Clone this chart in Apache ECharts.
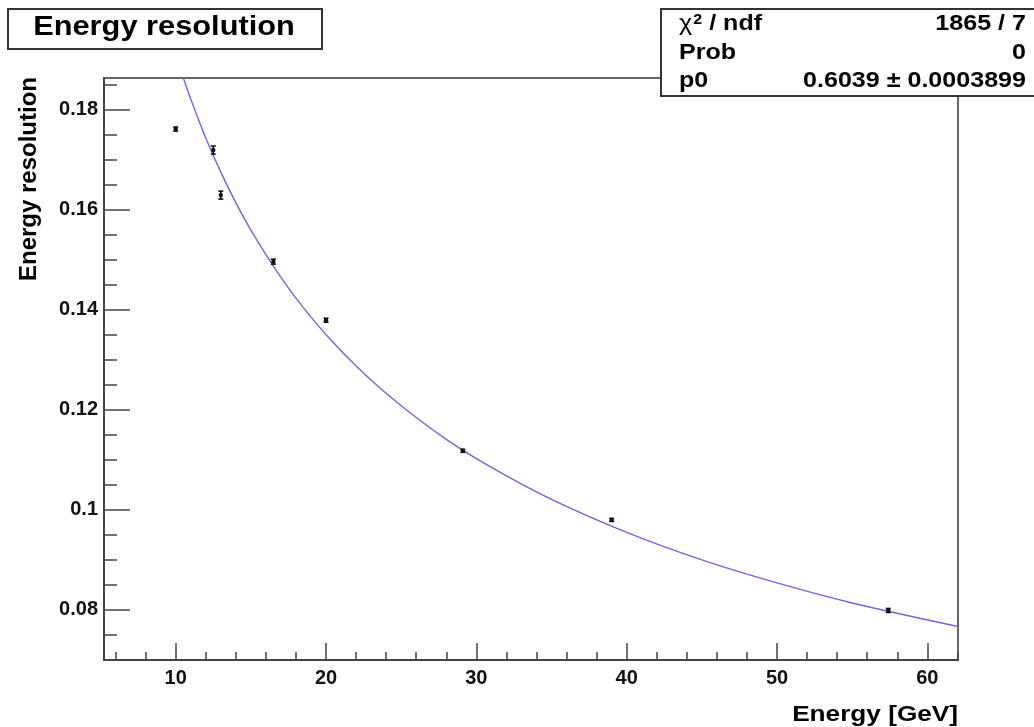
<!DOCTYPE html>
<html>
<head>
<meta charset="utf-8">
<script src="https://cdn.jsdelivr.net/npm/echarts@6/dist/echarts.min.js"></script>
<style>
html,body{margin:0;padding:0;background:#fff;}
#chart{width:1034px;height:727px;}
</style>
</head>
<body>
<div id="chart"></div>
<script>
// ---- data ----
const energy = [10, 12.5, 13, 16.5, 20, 29.1, 39, 57.4];
const resolution = [0.1761, 0.1719, 0.1629, 0.1496, 0.1379, 0.1118, 0.0980, 0.0799];
const resolutionErr = [0.0004, 0.0008, 0.0008, 0.0005, 0.0004, 0.0003, 0.0003, 0.0004];

// fit curve
const fitEnergy = [10.5, 11, 12, 13, 14, 15, 16.5, 18, 20, 22.5, 25, 28, 31, 35, 40, 45, 50, 55, 62.04];
const fitResolution = [0.1864, 0.1821, 0.1743, 0.1675, 0.1614, 0.1559, 0.1487, 0.1423, 0.1350, 0.1273, 0.1208, 0.1141, 0.1085, 0.1021, 0.0955, 0.0900, 0.0854, 0.0814, 0.0767];

// axis ticks
const xMajorTicks = [10, 20, 30, 40, 50, 60];
const xMinorTicks = [6, 8, 12, 14, 16, 18, 22, 24, 26, 28, 32, 34, 36, 38, 42, 44, 46, 48, 52, 54, 56, 58, 62];
const yMajorTicks = [0.08, 0.1, 0.12, 0.14, 0.16, 0.18];
const yMinorTicks = [0.075, 0.085, 0.09, 0.095, 0.105, 0.11, 0.115, 0.125, 0.13, 0.135, 0.145, 0.15, 0.155, 0.165, 0.17, 0.175, 0.185];

// text
const titleText = 'Energy resolution';
const xTitle = 'Energy [GeV]';
const yTitle = 'Energy resolution';
const statsLabels = ['{chi|χ}{sup|2}{b| / ndf}', '{b|Prob}', '{b|p0}'];
const statsValues = ['1865 / 7', '0', '0.6039 ± 0.0003899'];

const X_MIN = 5.23, X_MAX = 62.04, Y_MIN = 0.07, Y_MAX = 0.1863;

const chart = echarts.init(document.getElementById('chart'), null, {renderer: 'canvas'});

const pts = energy.map((e, i) => [e, resolution[i], resolutionErr[i]]);
const fit = fitEnergy.map((e, i) => [e, fitResolution[i]]);

const FONT = 'Liberation Sans, Arial, Helvetica, sans-serif';

const statsGraphics = [];
const rowY = [24, 53, 81];
const SX = 1.14;
statsLabels.forEach((t, i) => {
  statsGraphics.push({type: 'text', x: 679, y: rowY[i], z: 101, scaleX: SX,
    style: {text: t, fill: '#000', align: 'left', verticalAlign: 'middle', textAlign: 'left', textVerticalAlign: 'middle',
      rich: {
        b: {font: 'bold 22px ' + FONT, fill: '#000'},
        chi: {font: '22px ' + FONT, fill: '#000'},
        sup: {font: 'bold 14px ' + FONT, fill: '#000', verticalAlign: 'top', padding: [0, 0, 8, 1]}
      }}});
  statsGraphics.push({type: 'text', x: 1026, y: rowY[i], z: 101, scaleX: SX,
    style: {text: statsValues[i], font: 'bold 22px ' + FONT, fill: '#000', align: 'right', verticalAlign: 'middle', textAlign: 'right', textVerticalAlign: 'middle'}});
});

const option = {
  animation: false,
  backgroundColor: '#fff',
  grid: {left: 104, right: 76, top: 78, bottom: 67, containLabel: false, show: true,
         borderColor: '#666', borderWidth: 2, backgroundColor: 'transparent'},
  xAxis: [{
    type: 'value', min: X_MIN, max: X_MAX, position: 'bottom',
    axisLine: {show: true, onZero: false, lineStyle: {color: '#444', width: 2}},
    axisTick: {show: true, inside: true, length: 17, customValues: xMajorTicks, lineStyle: {color: '#444', width: 1.5}},
    axisLabel: {show: true, customValues: xMajorTicks, margin: 8, color: '#111', fontFamily: FONT, fontWeight: 'bold', fontSize: 20},
    splitLine: {show: false}
  }, {
    type: 'value', min: X_MIN, max: X_MAX, position: 'bottom',
    axisLine: {show: false, onZero: false},
    axisTick: {show: true, inside: true, length: 8, customValues: xMinorTicks, lineStyle: {color: '#444', width: 1.5}},
    axisLabel: {show: false},
    splitLine: {show: false}
  }],
  yAxis: [{
    type: 'value', min: Y_MIN, max: Y_MAX, position: 'left',
    axisLine: {show: true, onZero: false, lineStyle: {color: '#444', width: 2}},
    axisTick: {show: true, inside: true, length: 26, customValues: yMajorTicks, lineStyle: {color: '#444', width: 1.5}},
    axisLabel: {show: true, customValues: yMajorTicks, margin: 6, color: '#111', fontFamily: FONT, fontWeight: 'bold', fontSize: 20},
    splitLine: {show: false}
  }, {
    type: 'value', min: Y_MIN, max: Y_MAX, position: 'left',
    axisLine: {show: false, onZero: false},
    axisTick: {show: true, inside: true, length: 13, customValues: yMinorTicks, lineStyle: {color: '#444', width: 1.5}},
    axisLabel: {show: false},
    splitLine: {show: false}
  }],
  series: [{
    type: 'line', name: 'fit', data: fit, xAxisIndex: 0, yAxisIndex: 0,
    smooth: 0.3, showSymbol: false, clip: true,
    lineStyle: {color: '#6a6ae0', width: 1.4}, z: 2
  }, {
    type: 'custom', name: 'errors', data: pts, xAxisIndex: 0, yAxisIndex: 0, z: 3,
    renderItem: function (params, api) {
      const x = api.value(0), y = api.value(1), e = api.value(2);
      const lo = api.coord([x, y - e]);
      const hi = api.coord([x, y + e]);
      const c = api.coord([x, y]);
      const cap = 2.5;
      const st = {stroke: '#111', lineWidth: 1.6};
      return {type: 'group', children: [
        {type: 'line', shape: {x1: lo[0], y1: lo[1], x2: hi[0], y2: hi[1]}, style: st},
        {type: 'line', shape: {x1: lo[0] - cap, y1: lo[1], x2: lo[0] + cap, y2: lo[1]}, style: st},
        {type: 'line', shape: {x1: hi[0] - cap, y1: hi[1], x2: hi[0] + cap, y2: hi[1]}, style: st},
        {type: 'circle', shape: {cx: c[0], cy: c[1], r: 2.2}, style: {fill: '#111'}}
      ]};
    }
  }],
  graphic: [
    // title box
    {type: 'rect', shape: {x: 8, y: 9, width: 314, height: 40}, z: 100,
     style: {fill: '#fff', stroke: '#333', lineWidth: 2}},
    {type: 'text', x: 164, y: 28, z: 101, scaleX: 1.14,
     style: {text: titleText, font: 'bold 27px ' + FONT, fill: '#000', align: 'center', verticalAlign: 'middle', textAlign: 'center', textVerticalAlign: 'middle'}},
    // stats box
    {type: 'rect', shape: {x: 661, y: 9, width: 400, height: 87}, z: 100,
     style: {fill: '#fff', stroke: '#333', lineWidth: 2}},
    ...statsGraphics,
    // axis titles
    {type: 'text', x: 958, y: 715, z: 101, scaleX: 1.19,
     style: {text: xTitle, font: 'bold 22px ' + FONT, fill: '#000', align: 'right', verticalAlign: 'middle', textAlign: 'right', textVerticalAlign: 'middle'}},
    {type: 'text', x: 29, y: 77, rotation: Math.PI / 2, z: 101,
     style: {text: yTitle, font: 'bold 24px ' + FONT, fill: '#000', align: 'right', verticalAlign: 'middle', textAlign: 'right', textVerticalAlign: 'middle'}}
  ]
};
chart.setOption(option);
</script>
</body>
</html>
